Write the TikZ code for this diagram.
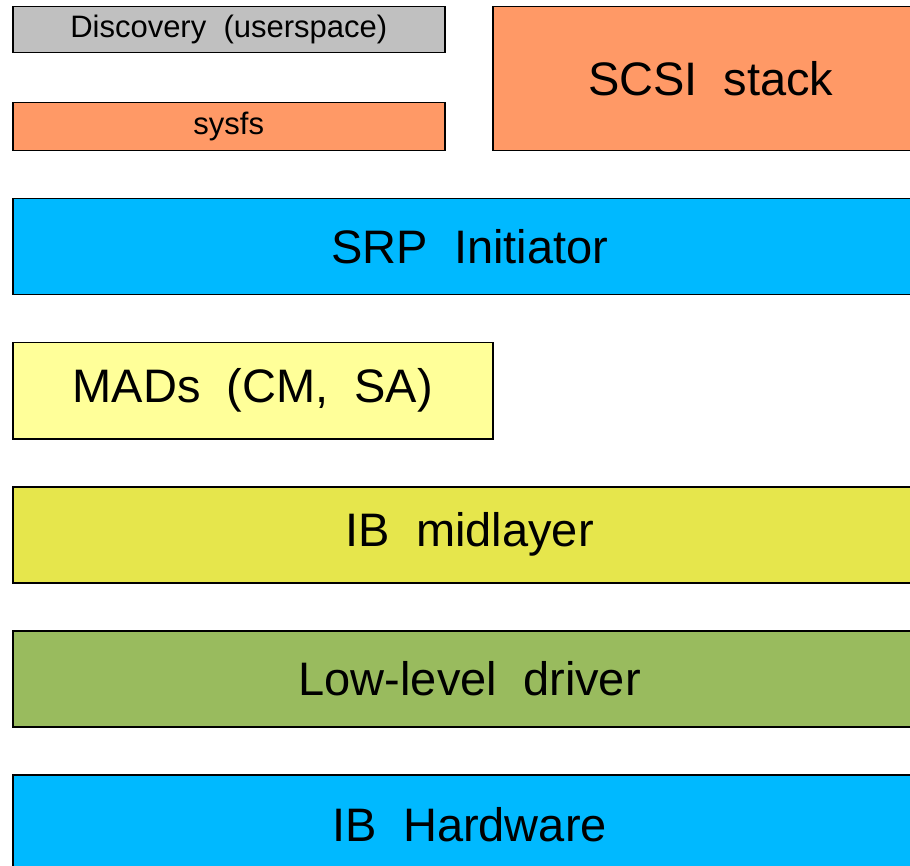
\documentclass[tikz,border=0pt]{standalone}
\usepackage{fontspec}
\setmainfont{Liberation Sans}
\usetikzlibrary{positioning}
\definecolor{boxgray}{HTML}{C0C0C0}
\definecolor{boxorange}{HTML}{FF9966}
\definecolor{boxblue}{HTML}{00B9FF}
\definecolor{boxpale}{HTML}{FFFF99}
\definecolor{boxyellow}{HTML}{E6E64C}
\definecolor{boxgreen}{HTML}{99BB5E}
\tikzset{
	layer/.style={rectangle, draw=black, line width=1.5pt, anchor=north west, inner sep=0pt},
	bigtext/.style={font=\fontsize{47}{52}\selectfont},
	smalltext/.style={font=\fontsize{31}{34}\selectfont}
}
\begin{document}
\begin{tikzpicture}[x=1pt, y=-1pt]
	\useasboundingbox (0,0) rectangle (910,866);
	\clip (0,0) rectangle (910,866);
	\begin{scope}[every node/.style={layer}]
		\node[smalltext, fill=boxgray, minimum width=432pt, minimum height=46pt] (disc) at (12,6) {Discovery~~(userspace)};
		\node[smalltext, fill=boxorange, minimum width=432pt, minimum height=48pt] (sysfs) at (12,102) {sysfs};
		\node[bigtext, fill=boxorange, minimum width=436pt, minimum height=144pt] (scsi) at (492,6) {SCSI~~stack};
		\node[bigtext, fill=boxblue, minimum width=920pt, minimum height=96pt] (srp) at (12,198) {\hspace*{-6pt}SRP~~Initiator};
		\node[bigtext, fill=boxpale, minimum width=480pt, minimum height=96pt] (mads) at (12,342) {MADs~~(CM,~~SA)};
		\node[bigtext, fill=boxyellow, minimum width=920pt, minimum height=96pt] (mid) at (12,486) {\hspace*{-6pt}IB~~midlayer};
		\node[bigtext, fill=boxgreen, minimum width=920pt, minimum height=96pt] (lld) at (12,630) {\hspace*{-6pt}Low-level~~driver};
		\node[bigtext, fill=boxblue, minimum width=920pt, minimum height=100pt] (hw) at (12,774) {\hspace*{-6pt}IB~~Hardware};
	\end{scope}
\end{tikzpicture}
\end{document}
